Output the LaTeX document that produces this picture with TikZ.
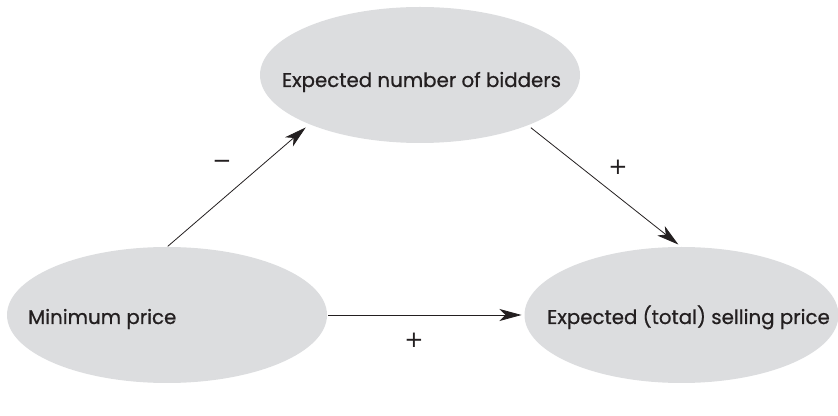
\documentclass[tikz,border=0pt]{standalone}
\usepackage{fontspec}
\setmainfont{Poppins}[FakeBold=0.7]
\newfontfamily\signfont{DejaVu Sans}
\usetikzlibrary{arrows.meta,shapes.geometric}
\definecolor{ellfill}{RGB}{220,221,223}
\definecolor{ink}{RGB}{35,31,32}
\tikzset{
  bubble/.style={ellipse, fill=ellfill, draw=none, inner sep=0pt, outer sep=0pt},
  lbl/.style={text=ink, font=\fontsize{19.8}{22}\selectfont, inner sep=0pt, anchor=base},
  sign/.style={text=ink, font=\signfont\fontsize{23}{26}\selectfont, inner sep=0pt},
  arr/.style={draw=ink, line width=0.8pt, -{Stealth[length=22pt, width=12pt, inset=6pt]}}
}
\begin{document}
\begin{tikzpicture}[x=1pt, y=1pt]
\useasboundingbox (0,0) rectangle (838,415);
% ellipses (image y converted: y_tikz = 415 - y_img)
\node[bubble, minimum width=320pt, minimum height=136pt] (bid) at (420,340) {};
\node[bubble, minimum width=320pt, minimum height=136pt] (min) at (167,100) {};
\node[bubble, minimum width=314pt, minimum height=136pt] (sell) at (681.5,100) {};
% texts
\node[lbl] (bidt) at (421.5,328) {Expected number of bidders};
\node[lbl, anchor=base west] (mint) at (28,91) {Minimum price};
\node[lbl] (sellt) at (688.5,91) {Expected (total) selling price};
% connectors
\draw[arr, shorten <=1pt, shorten >=5pt] (min.north) -- (bid.204);
\draw[arr, shorten <=4pt, shorten >=4pt] (bid.335) -- (sell.north);
\draw[arr, shorten <=1pt, shorten >=3pt] (min.east) -- (sell.west);
% signs
\node[sign] (s1) at (222,251) {−};
\node[sign] (s2) at (618,248) {+};
\node[sign] (s3) at (414,75) {+};
\end{tikzpicture}
\end{document}
